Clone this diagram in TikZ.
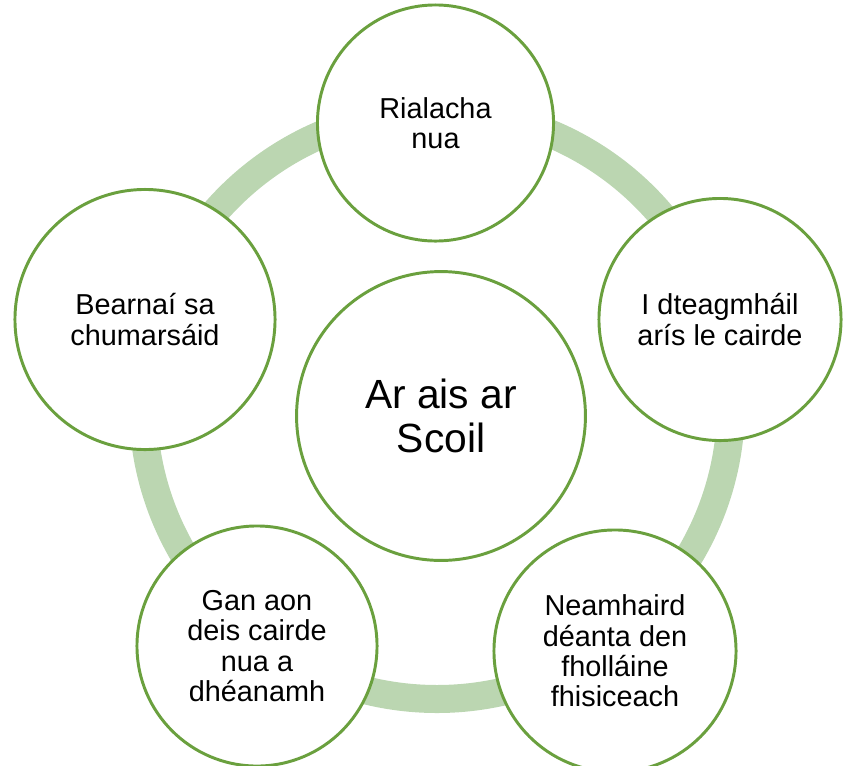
\documentclass[tikz,border=0pt]{standalone}
\usepackage{fontspec}
\setmainfont{Liberation Sans}
\usepackage{xcolor}
\usepackage{tikz}
\usetikzlibrary{positioning, shapes}

\definecolor{ringgreen}{RGB}{187,214,177}
\definecolor{edgegreen}{RGB}{106,160,62}

\tikzset{
  bubble/.style={circle, draw=edgegreen, line width=2.1pt, fill=white,
    align=center, inner sep=0pt, font=\fontsize{20.5}{21.5}\selectfont},
  hub/.style={bubble, font=\fontsize{29}{31.5}\selectfont}
}

\begin{document}
\begin{tikzpicture}[x=0.025cm, y=-0.025cm]
    \useasboundingbox (0,0) rectangle (844,765);

    % Draw the ring behind the circles
    \draw[ringgreen, line width=0.7cm] (437,405) circle (294);

    % Centre circle
    \node[hub, minimum size=7.22cm] (scoil) at (441,416) {Ar ais ar\\Scoil};

    % Outer circles
    \node[bubble, minimum size=5.9cm] (rialacha) at (435.5,123) {Rialacha\\nua};
    \node[bubble, minimum size=6.05cm] (cairde) at (720,319.5) {I dteagmháil\\arís le cairde};
    \node[bubble, minimum size=6.05cm] (folaine) at (615,651) {Neamhaird\\déanta den\\fholláine\\fhisiceach};
    \node[bubble, minimum size=6.0cm] (deis) at (257,646) {Gan aon\\deis cairde\\nua a\\dhéanamh};
    \node[bubble, minimum size=6.5cm] (bearnai) at (145,319.5) {Bearnaí sa\\chumarsáid};

\end{tikzpicture}
\end{document}
